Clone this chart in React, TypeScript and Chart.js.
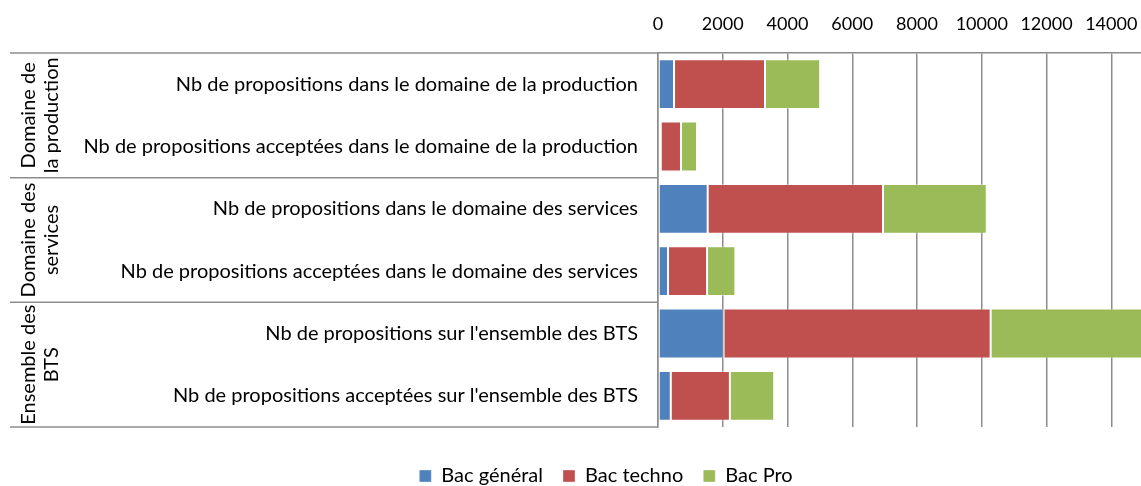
import { useEffect, useRef } from 'react';
import { Chart, registerables } from 'chart.js';

Chart.register(...registerables);

const categories = [
  'Nb de propositions dans le domaine de la production',
  'Nb de propositions acceptées dans le domaine de la production',
  'Nb de propositions dans le domaine des services',
  'Nb de propositions acceptées dans le domaine des services',
  "Nb de propositions sur l'ensemble des BTS",
  "Nb de propositions acceptées sur l'ensemble des BTS",
];

const groupLabels = [
  ['Domaine de', 'la production'],
  ['Domaine des', 'services'],
  ['Ensemble des', 'BTS'],
];
const groupSizes = [2, 2, 2];

const seriesNames = ['Bac général', 'Bac techno', 'Bac Pro'];
const bacGeneral = [495, 85, 1535, 310, 2025, 395];
const bacTechno = [2810, 625, 5415, 1205, 8250, 1825];
const bacPro = [1705, 495, 3205, 875, 4910, 1370];

const xMin = 0;
const xMax = 16000;
const xStep = 2000;

const FONT = 'Lato';
const FONT_SIZE = 20;
const TICK_SIZE = 18;
const GRID = '#8c8c8c';

const groupPlugin = {
  id: 'groupLabels',
  afterDraw(chart: any) {
    const { ctx, chartArea } = chart;
    const y = chart.scales.y;
    const half = Math.abs(y.getPixelForValue(1) - y.getPixelForValue(0)) / 2;
    const leftEdge = 10;
    ctx.save();
    ctx.strokeStyle = GRID;
    ctx.lineWidth = 1.5;
    let idx = 0;
    groupSizes.forEach((size, g) => {
      const top = y.getPixelForValue(idx) - half;
      const bottom = y.getPixelForValue(idx + size - 1) + half;
      ctx.beginPath();
      ctx.moveTo(leftEdge, top);
      ctx.lineTo(chartArea.left, top);
      ctx.stroke();
      if (g === groupSizes.length - 1) {
        ctx.beginPath();
        ctx.moveTo(leftEdge, bottom);
        ctx.lineTo(chartArea.left, bottom);
        ctx.stroke();
      }
      const lines = groupLabels[g];
      const cx = 40;
      const cy = (top + bottom) / 2;
      const lh = 23;
      ctx.save();
      ctx.translate(cx, cy);
      ctx.rotate(-Math.PI / 2);
      ctx.fillStyle = '#000';
      ctx.font = `${FONT_SIZE}px ${FONT}`;
      ctx.textAlign = 'center';
      ctx.textBaseline = 'middle';
      lines.forEach((t, i) => {
        ctx.fillText(t, 0, (i - (lines.length - 1) / 2) * lh);
      });
      ctx.restore();
      idx += size;
    });
    ctx.restore();
  },
};

export default function App() {
  const ref = useRef<HTMLCanvasElement>(null);
  useEffect(() => {
    document.body.style.margin = '0';
    let chart: Chart | null = null;
    let cancelled = false;
    const make = () => {
      if (cancelled || !ref.current) return;
      const border = 'rgba(255,255,255,0.35)';
      chart = new Chart(ref.current, {
        type: 'bar',
        data: {
          labels: categories,
          datasets: [
            { label: seriesNames[0], data: bacGeneral, backgroundColor: '#4F81BD', borderColor: border, borderWidth: 1, borderSkipped: false },
            { label: seriesNames[1], data: bacTechno, backgroundColor: '#C0504D', borderColor: border, borderWidth: 1, borderSkipped: false },
            { label: seriesNames[2], data: bacPro, backgroundColor: '#9BBB59', borderColor: border, borderWidth: 1, borderSkipped: false },
          ],
        },
        options: {
          indexAxis: 'y',
          responsive: false,
          animation: false,
          devicePixelRatio: 1,
          layout: { padding: { top: 0, bottom: 0, left: 0, right: 0 } },
          datasets: { bar: { categoryPercentage: 1, barPercentage: 0.8 } },
          scales: {
            x: {
              type: 'linear',
              position: 'top',
              stacked: true,
              min: xMin,
              max: xMax,
              ticks: {
                stepSize: xStep,
                color: '#000',
                font: { family: FONT, size: TICK_SIZE },
                padding: 18,
                maxRotation: 0,
                callback: (v: any) => String(v),
              },
              grid: { color: GRID, lineWidth: 1.5, drawTicks: false },
              border: { display: true, color: GRID, width: 1.5 },
              afterFit: (s: any) => { s.height = 53; s.paddingLeft = 0; s.paddingRight = 36; },
            },
            sp: {
              type: 'linear',
              axis: 'x',
              position: 'bottom',
              display: true,
              grid: { display: false },
              border: { display: false },
              ticks: { display: false },
              afterFit: (s: any) => { s.height = 19; s.paddingLeft = 0; s.paddingRight = 36; },
            },
            y: {
              type: 'category',
              stacked: true,
              ticks: { color: '#000', font: { family: FONT, size: FONT_SIZE }, padding: 20, autoSkip: false },
              grid: { display: false, drawTicks: false },
              border: { display: true, color: GRID, width: 1.5 },
              afterFit: (s: any) => { s.width = 658; s.paddingTop = 0; s.paddingBottom = 0; },
            },
          },
          plugins: {
            legend: {
              position: 'bottom',
              labels: {
                color: '#000',
                font: { family: FONT, size: FONT_SIZE },
                boxWidth: 12,
                boxHeight: 12,
                padding: 20,
              },
            },
            tooltip: { enabled: false },
          },
        },
        plugins: [groupPlugin],
      } as any);
    };
    (document as any).fonts
      .load(`${FONT_SIZE}px ${FONT}`)
      .then(make, make);
    return () => {
      cancelled = true;
      if (chart) chart.destroy();
    };
  }, []);
  return (
    <div style={{ width: 1141, height: 486, overflow: 'hidden', position: 'relative', background: '#fff' }}>
      <canvas ref={ref} width={1212} height={496} style={{ display: 'block', width: 1212, height: 496 }} />
    </div>
  );
}
